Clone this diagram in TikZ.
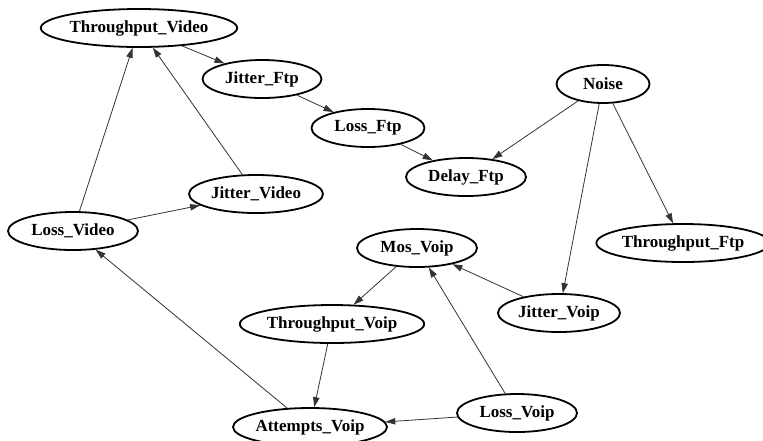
\documentclass[tikz,border=0pt]{standalone}
\usepackage{fontspec}
\setmainfont{Liberation Serif}
\usetikzlibrary{shapes.geometric,arrows.meta}

\begin{document}
\begin{tikzpicture}[x=0.5pt, y=-0.5pt,
    var/.style={ellipse, draw, line width=0.9pt, minimum height=19pt, inner sep=0pt,
        font=\fontsize{8.5}{10}\selectfont\bfseries},
    dep/.style={draw=black!80, line width=0.4pt, -{Triangle[length=5pt,width=3.2pt]}}]

\useasboundingbox (0,0) rectangle (763,440);

%%%%%%%%%%%%%%%%%%%%%%%%%%%%%%%%%%%%%%%%%%%%%%%%%%%%%%%%%%%%%%%%
% Video and Ftp
%%%%%%%%%%%%%%%%%%%%%%%%%%%%%%%%%%%%%%%%%%%%%%%%%%%%%%%%%%%%%%%%
\node [var, minimum width=92.5pt] (tvid) at (139,28) {Throughput\_Video};
\node [var, minimum width=59.5pt] (jftp) at (262,79) {Jitter\_Ftp};
\node [var, minimum width=56.5pt] (lftp) at (368,128) {Loss\_Ftp};
\node [var, minimum width=60pt] (dftp) at (466,177) {Delay\_Ftp};
\node [var, minimum width=67pt] (jvid) at (256,194) {Jitter\_Video};
\node [var, minimum width=65pt] (lvid) at (73,231) {Loss\_Video};

% Noise
\node [var, minimum width=46.5pt] (noise) at (603,84) {Noise};
\node [var, minimum width=80pt] (tftp) at (683,243) {Throughput\_Ftp};

%%%%%%%%%%%%%%%%%%%%%%%%%%%%%%%%%%%%%%%%%%%%%%%%%%%%%%%%%%%%%%%%
% Voip
%%%%%%%%%%%%%%%%%%%%%%%%%%%%%%%%%%%%%%%%%%%%%%%%%%%%%%%%%%%%%%%%
\node [var, minimum width=60pt] (mos) at (417,248) {Mos\_Voip};
\node [var, minimum width=87.5pt] (tvoip) at (332,324) {Throughput\_Voip};
\node [var, minimum width=61pt] (jvoip) at (559,313) {Jitter\_Voip};
\node [var, minimum width=60pt] (lvoip) at (517,413) {Loss\_Voip};
\node [var, minimum width=77pt] (avoip) at (310,427) {Attempts\_Voip};

%%%%%%%%%%%%%%%%%%%%%%%%%%%%%%%%%%%%%%%%%%%%%%%%%%%%%%%%%%%%%%%%
% Edges
%%%%%%%%%%%%%%%%%%%%%%%%%%%%%%%%%%%%%%%%%%%%%%%%%%%%%%%%%%%%%%%%
\draw [dep] (tvid) to (jftp);
\draw [dep] (jftp) to (lftp);
\draw [dep] (lftp) to (dftp);
\draw [dep] (noise) to (dftp);
\draw [dep] (noise) to (tftp);
\draw [dep] (noise) to (jvoip);

\draw [dep] (lvid) to (tvid);
\draw [dep] (jvid) to (tvid);
\draw [dep] (lvid) to (jvid);
\draw [dep] (avoip) to (lvid);

\draw [dep] (mos) to (tvoip);
\draw [dep] (jvoip) to (mos);
\draw [dep] (lvoip) to (mos);
\draw [dep] (tvoip) to (avoip);
\draw [dep] (lvoip) to (avoip);
\end{tikzpicture}
\end{document}
